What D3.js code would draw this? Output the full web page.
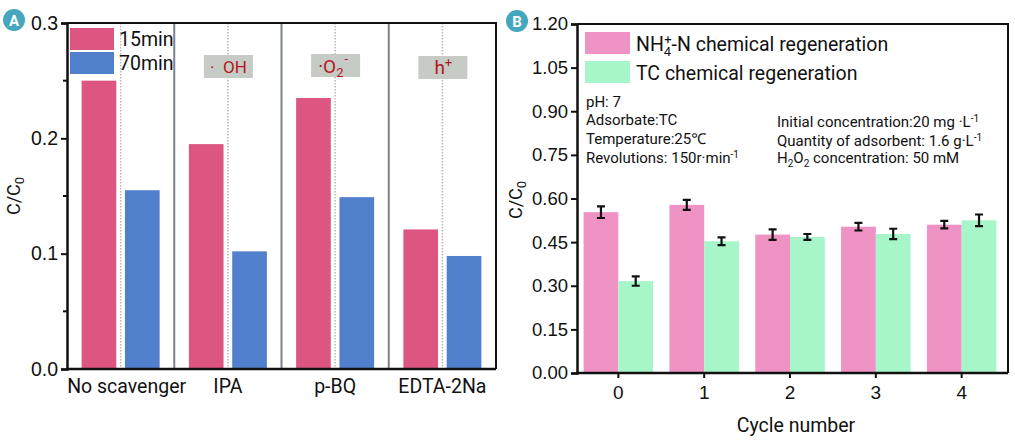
<!DOCTYPE html>
<html>
<head>
  <meta charset="utf-8">
  <title>Scavenger test and regeneration</title>
  <style>
    body { margin: 0; background: #fff; }
    svg { font-family: Roboto, "Noto Sans", sans-serif; }
    .axis path, .axis line { stroke: #111; }
    .axis text { fill: #111; }
  </style>
</head>
<body>
  <svg width="1015" height="447"></svg>

  <script src="https://cdn.jsdelivr.net/npm/d3@7/dist/d3.min.js"></script>
  <script>
    // Panel A data
    const scavengers = ["No scavenger", "IPA", "p-BQ", "EDTA-2Na"];
    const timeSeries = ["15min", "70min"];
    const ratio15 = [0.250, 0.195, 0.235, 0.121];
    const ratio70 = [0.155, 0.102, 0.149, 0.098];
    const yTicksA = [0, 0.1, 0.2, 0.3];
    const yMinorA = [0.05, 0.15, 0.25];

    // Panel B data
    const cycles = ["0", "1", "2", "3", "4"];
    const regenSeries = ["NH4-N chemical regeneration", "TC chemical regeneration"];
    const nh4Values = [0.553, 0.578, 0.476, 0.503, 0.510];
    const nh4Errors = [0.020, 0.017, 0.018, 0.013, 0.013];
    const tcValues = [0.316, 0.453, 0.468, 0.478, 0.525];
    const tcErrors = [0.016, 0.013, 0.010, 0.018, 0.020];
    const yTicksB = [0, 0.15, 0.30, 0.45, 0.60, 0.75, 0.90, 1.05, 1.20];

    const svg = d3.select("svg");

    const pinkA = "#dd5682", blueA = "#507fcc";
    const pinkB = "#ef93c4", greenB = "#a6f6c9";
    const badge = "#44a7be";
    const dark = "#111";

    // ---------- Panel A ----------
    const A = { left: 67, right: 496, top: 23, bottom: 369 };
    const xA = d3.scaleBand().domain(scavengers).range([A.left, A.right]);
    const xInA = d3.scaleBand().domain(timeSeries).range([-39, 39]).paddingInner(0.2);
    const yA = d3.scaleLinear().domain([0, 0.3]).range([A.bottom, A.top]);

    const gA = svg.append("g");

    // gray section separators
    gA.selectAll(".sep")
      .data(scavengers.slice(1))
      .enter().append("line")
      .attr("x1", d => xA(d)).attr("x2", d => xA(d))
      .attr("y1", A.top).attr("y2", A.bottom)
      .attr("stroke", "#7b8190").attr("stroke-width", 2);

    // dotted mid lines
    gA.selectAll(".mid")
      .data(scavengers)
      .enter().append("line")
      .attr("x1", d => xA(d) + xA.bandwidth() / 2)
      .attr("x2", d => xA(d) + xA.bandwidth() / 2)
      .attr("y1", A.top).attr("y2", A.bottom)
      .attr("stroke", "#b8b8b8").attr("stroke-width", 1.5)
      .attr("stroke-dasharray", "1.5,1.5");

    const barsA = [
      { name: "15min", vals: ratio15, color: pinkA },
      { name: "70min", vals: ratio70, color: blueA }
    ];
    barsA.forEach(s => {
      gA.selectAll(null)
        .data(scavengers)
        .enter().append("rect")
        .attr("x", d => xA(d) + xA.bandwidth() / 2 + xInA(s.name))
        .attr("width", xInA.bandwidth())
        .attr("y", (d, i) => yA(s.vals[i]))
        .attr("height", (d, i) => A.bottom - yA(s.vals[i]))
        .attr("fill", s.color);
    });

    // frame top/right
    gA.append("path")
      .attr("d", `M${A.left},${A.top}H${A.right}V${A.bottom}`)
      .attr("fill", "none").attr("stroke", dark).attr("stroke-width", 2);

    // y axis
    const axA = gA.append("g").attr("class", "axis")
      .attr("transform", `translate(${A.left},0)`)
      .call(d3.axisLeft(yA).tickValues(yTicksA).tickFormat(d3.format(".1f")).tickSize(6).tickPadding(3));
    axA.select(".domain").attr("stroke-width", 2.5);
    axA.selectAll("line").attr("stroke-width", 2);
    axA.selectAll("text").attr("font-size", 19.5);
    gA.selectAll(".minorA")
      .data(yMinorA)
      .enter().append("line")
      .attr("x1", A.left - 4).attr("x2", A.left)
      .attr("y1", d => yA(d)).attr("y2", d => yA(d))
      .attr("stroke", dark).attr("stroke-width", 2);

    // x axis line + labels
    gA.append("line")
      .attr("x1", A.left - 1).attr("x2", A.right)
      .attr("y1", A.bottom).attr("y2", A.bottom)
      .attr("stroke", dark).attr("stroke-width", 2.5);
    gA.selectAll(".xlabA")
      .data(scavengers)
      .enter().append("text")
      .attr("x", (d, i) => xA(d) + xA.bandwidth() / 2 + (i === 0 ? 6 : 0))
      .attr("y", 393)
      .attr("text-anchor", "middle")
      .attr("font-size", 19.5)
      .attr("fill", dark)
      .text(d => d);

    // y title
    const tA = gA.append("text")
      .attr("transform", "translate(20,196) rotate(-90)")
      .attr("text-anchor", "middle")
      .attr("font-size", 18).attr("fill", dark);
    tA.append("tspan").text("C/C");
    tA.append("tspan").attr("font-size", 13).attr("dy", 4).text("0");

    // legend A
    barsA.forEach((s, i) => {
      gA.append("rect")
        .attr("x", 70).attr("y", 28 + i * 24)
        .attr("width", 44).attr("height", 22)
        .attr("fill", s.color);
      gA.append("text")
        .attr("x", 119).attr("y", 46 + i * 24)
        .attr("font-size", 19.5).attr("fill", dark)
        .text(s.name);
    });

    // species label boxes
    const boxes = [
      { key: "IPA", y: 55 },
      { key: "p-BQ", y: 54 },
      { key: "EDTA-2Na", y: 56 }
    ];
    boxes.forEach(b => {
      const cx = xA(b.key) + xA.bandwidth() / 2;
      gA.append("rect")
        .attr("x", cx - 24).attr("y", b.y)
        .attr("width", 49).attr("height", 23)
        .attr("fill", "#c6cbc5");
    });
    const red = "#b3191f";
    const cIPA = xA("IPA") + xA.bandwidth() / 2;
    gA.append("text").attr("x", cIPA - 18).attr("y", 73)
      .attr("font-size", 17).attr("fill", red).text("·");
    gA.append("text").attr("x", cIPA + 7).attr("y", 73)
      .attr("text-anchor", "middle").attr("font-size", 17).attr("fill", red).text("OH");

    const cBQ = xA("p-BQ") + xA.bandwidth() / 2;
    const tO2 = gA.append("text").attr("x", cBQ - 17).attr("y", 73)
      .attr("font-size", 19).attr("fill", red);
    tO2.append("tspan").text("·O");
    tO2.append("tspan").attr("font-size", 13).attr("dy", 4).text("2");
    tO2.append("tspan").attr("font-size", 13).attr("dy", -14).attr("dx", 1).text("-");

    const cED = xA("EDTA-2Na") + xA.bandwidth() / 2;
    const th = gA.append("text").attr("x", cED - 8).attr("y", 74)
      .attr("font-size", 19).attr("fill", red);
    th.append("tspan").text("h");
    th.append("tspan").attr("font-size", 13).attr("dy", -7).text("+");

    // ---------- Panel B ----------
    const B = { left: 577, right: 1008, top: 24, bottom: 373 };
    const xB = d3.scaleBand().domain(cycles).range([B.left - 2, B.right - 3])
      .paddingInner(0.19).paddingOuter(0.1);
    const xInB = d3.scaleBand().domain(regenSeries).range([0, xB.bandwidth()]);
    const yB = d3.scaleLinear().domain([0, 1.2]).range([B.bottom, B.top]);

    const gB = svg.append("g");

    const barsB = [
      { name: regenSeries[0], vals: nh4Values, errs: nh4Errors, color: pinkB },
      { name: regenSeries[1], vals: tcValues, errs: tcErrors, color: greenB }
    ];
    barsB.forEach(s => {
      gB.selectAll(null)
        .data(cycles)
        .enter().append("rect")
        .attr("x", d => xB(d) + xInB(s.name))
        .attr("width", xInB.bandwidth())
        .attr("y", (d, i) => yB(s.vals[i]))
        .attr("height", (d, i) => B.bottom - yB(s.vals[i]))
        .attr("fill", s.color);
    });
    barsB.forEach(s => {
      const eg = gB.selectAll(null)
        .data(cycles)
        .enter().append("g")
        .attr("transform", d => `translate(${xB(d) + xInB(s.name) + xInB.bandwidth() / 2},0)`);
      eg.append("path")
        .attr("d", (d, i) => {
          const y1 = yB(s.vals[i] + s.errs[i]), y2 = yB(s.vals[i] - s.errs[i]);
          return `M-4,${y1}H4M0,${y1}V${y2}M-4,${y2}H4`;
        })
        .attr("fill", "none").attr("stroke", dark).attr("stroke-width", 2.2);
    });

    // frame
    gB.append("path")
      .attr("d", `M${B.left},${B.top}H${B.right}V${B.bottom}`)
      .attr("fill", "none").attr("stroke", dark).attr("stroke-width", 2);

    const axBy = gB.append("g").attr("class", "axis")
      .attr("transform", `translate(${B.left},0)`)
      .call(d3.axisLeft(yB).tickValues(yTicksB).tickFormat(d3.format(".2f")).tickSize(6).tickPadding(3));
    axBy.select(".domain").attr("stroke-width", 2.5);
    axBy.selectAll("line").attr("stroke-width", 2);
    axBy.selectAll("text").attr("font-size", 18.5);

    const axBx = gB.append("g").attr("class", "axis")
      .attr("transform", `translate(0,${B.bottom})`)
      .call(d3.axisBottom(xB).tickSize(5).tickPadding(8).tickSizeOuter(0));
    axBx.select(".domain").attr("stroke-width", 2.5).attr("d", `M${B.left - 1},0H${B.right}`);
    axBx.selectAll("line").attr("stroke-width", 2);
    axBx.selectAll("text").attr("font-size", 19);

    // titles
    const tB = gB.append("text")
      .attr("transform", "translate(522,200) rotate(-90)")
      .attr("text-anchor", "middle")
      .attr("font-size", 18).attr("fill", dark);
    tB.append("tspan").text("C/C");
    tB.append("tspan").attr("font-size", 13).attr("dy", 4).text("0");

    gB.append("text")
      .attr("x", 796).attr("y", 432)
      .attr("text-anchor", "middle")
      .attr("font-size", 19.5).attr("fill", dark)
      .text("Cycle number");

    // legend B
    barsB.forEach((s, i) => {
      gB.append("rect")
        .attr("x", 585).attr("y", 32 + i * 29)
        .attr("width", 45).attr("height", 22)
        .attr("fill", s.color);
    });
    const l1 = gB.append("text").attr("x", 636).attr("y", 51)
      .attr("font-size", 19.5).attr("fill", dark);
    l1.append("tspan").text("NH");
    l1.append("tspan").attr("font-size", 13).attr("dy", 5).text("4");
    l1.append("tspan").attr("font-size", 13).attr("dy", -12).attr("dx", -7).text("+");
    l1.append("tspan").attr("dy", 7).text("-N chemical regeneration");
    gB.append("text").attr("x", 636).attr("y", 80)
      .attr("font-size", 19.5).attr("fill", dark)
      .text("TC chemical regeneration");

    // conditions
    function note(x, y, parts) {
      const t = gB.append("text").attr("x", x).attr("y", y)
        .attr("font-size", 15).attr("fill", dark);
      parts.forEach(p => {
        const sp = t.append("tspan").text(p.t);
        if (p.sup) sp.attr("font-size", 10).attr("dy", -5);
        if (p.sub) sp.attr("font-size", 10).attr("dy", 4);
        if (p.back) sp.attr("dy", p.back);
      });
    }
    note(586, 107, [{ t: "pH: 7" }]);
    note(586, 125, [{ t: "Adsorbate:TC" }]);
    note(586, 144, [{ t: "Temperature:25℃" }]);
    note(586, 163, [{ t: "Revolutions: 150r·min" }, { t: "-1", sup: true }]);
    note(777, 127, [{ t: "Initial concentration:20 mg ·L" }, { t: "-1", sup: true }]);
    note(777, 146, [{ t: "Quantity of adsorbent: 1.6 g·L" }, { t: "-1", sup: true }]);
    note(777, 163, [{ t: "H" }, { t: "2", sub: true }, { t: "O", back: -4 }, { t: "2", sub: true },
      { t: " concentration:  50 mM", back: -4 }]);

    // panel badges
    [{ x: 14, y: 20, l: "A" }, { x: 517, y: 21, l: "B" }].forEach(b => {
      svg.append("circle").attr("cx", b.x).attr("cy", b.y).attr("r", 11).attr("fill", badge);
      svg.append("text").attr("x", b.x).attr("y", b.y + 5.5)
        .attr("text-anchor", "middle").attr("font-size", 15).attr("font-weight", "bold")
        .attr("fill", "#fff").text(b.l);
    });
  </script>
</body>
</html>
